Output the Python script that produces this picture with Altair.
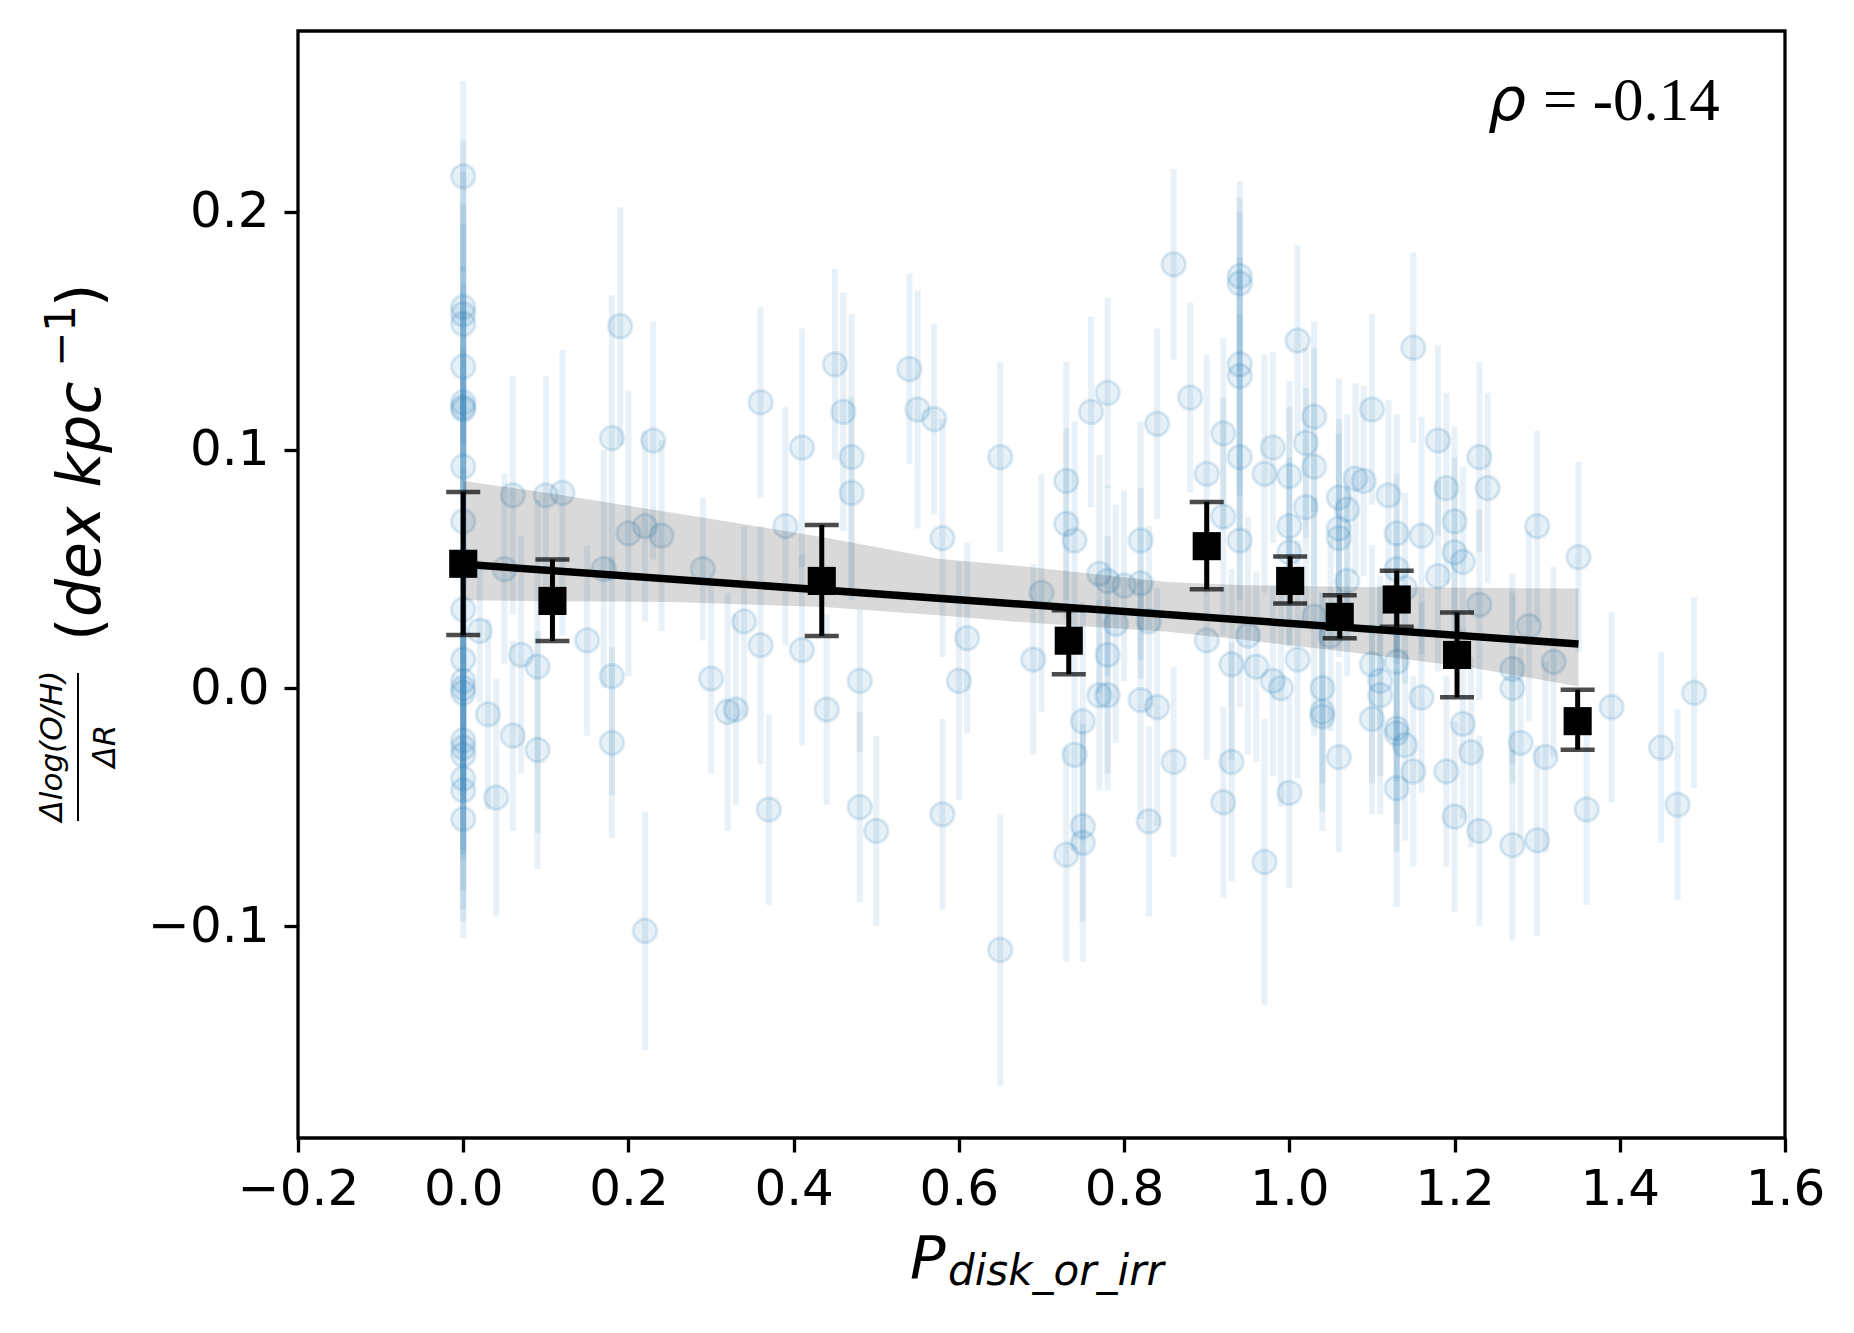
import altair as alt
import pandas as pd

# ---- individual galaxies (light blue points with error bars) ----
blue_x = [0, 0, 0, 0, 0, 0, 0, 0, 0, 0, 0, 0, 0, 0, 0, 0, 0, 0, 0, 0, 0, 0,
          0.02, 0.03, 0.05, 0.04, 0.06, 0.06, 0.07, 0.09, 0.09, 0.10, 0.12, 0.15, 0.17, 0.18,
          0.18, 0.18, 0.19, 0.20, 0.22, 0.22, 0.23, 0.24, 0.29, 0.30, 0.32, 0.33, 0.34, 0.36,
          0.36, 0.37, 0.39, 0.41, 0.41, 0.44, 0.45, 0.46, 0.47, 0.47, 0.48, 0.48, 0.50, 0.54,
          0.55, 0.57, 0.58, 0.58, 0.60, 0.61, 0.65, 0.65, 0.69, 0.70, 0.73, 0.73, 0.73, 0.74,
          0.74, 0.75, 0.75, 0.75, 0.76, 0.77, 0.77, 0.78, 0.78, 0.78, 0.78, 0.79, 0.80, 0.82,
          0.82, 0.82, 0.83, 0.83, 0.84, 0.84, 0.86, 0.86, 0.88, 0.90, 0.90, 0.92, 0.92, 0.92,
          0.93, 0.93, 0.94, 0.94, 0.94, 0.94, 0.94, 0.94, 0.95, 0.96, 0.97, 0.97, 0.98, 0.98,
          0.99, 1.00, 1.00, 1.00, 1.00, 1.01, 1.01, 1.02, 1.02, 1.03, 1.03, 1.03, 1.04, 1.04,
          1.04, 1.05, 1.06, 1.06, 1.06, 1.06, 1.07, 1.07, 1.08, 1.09, 1.10, 1.10, 1.10, 1.11,
          1.11, 1.12, 1.13, 1.13, 1.13, 1.13, 1.13, 1.13, 1.14, 1.14, 1.15, 1.15, 1.16, 1.16,
          1.18, 1.18, 1.19, 1.19, 1.20, 1.20, 1.20, 1.21, 1.21, 1.22, 1.23, 1.23, 1.23, 1.24,
          1.27, 1.27, 1.27, 1.28, 1.29, 1.30, 1.30, 1.31, 1.32, 1.35, 1.36, 1.39, 1.45, 1.47,
          1.49]
blue_y = [0.215, 0.160, 0.157, 0.153, 0.135, 0.120, 0.118, 0.117, 0.093, 0.070, 0.052, 0.033,
          0.012, 0.003, 0.000, -0.002, -0.022, -0.025, -0.028, -0.038, -0.043, -0.055,
          0.024, -0.011, 0.050, -0.046, 0.081, -0.020, 0.014, 0.009, -0.026, 0.081, 0.082, 0.020,
          0.050, 0.105, 0.005, -0.023, 0.152, 0.065, 0.068, -0.102, 0.104, 0.064, 0.050, 0.004,
          -0.010, -0.009, 0.028, 0.120, 0.018, -0.051, 0.068, 0.101, 0.016, -0.009, 0.136, 0.116,
          0.097, 0.082, 0.003, -0.050, -0.060, 0.134, 0.117, 0.113, 0.063, -0.053, 0.003, 0.021,
          0.097, -0.110, 0.012, 0.040, 0.087, 0.069, -0.070, 0.062, -0.028, -0.014, -0.058, -0.065,
          0.116, 0.048, -0.003, 0.124, 0.045, 0.014, -0.003, 0.027, 0.043, 0.062, 0.044, -0.005,
          -0.056, 0.028, 0.111, -0.008, 0.178, -0.031, 0.122, 0.090, 0.020, 0.107, 0.072, -0.048,
          0.010, -0.031, 0.173, 0.170, 0.136, 0.131, 0.097, 0.062, 0.022, 0.009, 0.090, -0.073,
          0.101, 0.003, 0.000, 0.089, 0.068, 0.057, -0.044, 0.146, 0.012, 0.103, 0.076, 0.114,
          0.093, 0.030, 0.000, -0.010, -0.012, 0.022, 0.080, 0.067, 0.063, -0.029, 0.075, 0.045,
          0.088, 0.087, 0.117, 0.010, -0.013, 0.003, -0.003, 0.081, 0.065, 0.050, 0.011, -0.017,
          -0.019, -0.042, -0.024, 0.042, 0.143, -0.035, 0.064, -0.004, 0.104, 0.047, 0.084, -0.035,
          0.070, 0.057, -0.054, 0.053, -0.015, -0.027, 0.097, 0.035, -0.060, 0.084, 0.008, 0.000,
          -0.066, -0.023, 0.026, 0.068, -0.064, -0.029, 0.011, 0.055, -0.051, -0.008, -0.025,
          -0.049, -0.002]
blue_err = [0.040, 0.070, 0.060, 0.050, 0.060, 0.050, 0.040, 0.060, 0.050, 0.060, 0.040,
            0.050, 0.060, 0.050, 0.070, 0.040, 0.050, 0.060, 0.040, 0.060, 0.050, 0.050,
            0.030, 0.040, 0.040, 0.050, 0.050, 0.040, 0.050, 0.070, 0.050, 0.050, 0.060, 0.040, 0.050, 0.060,
            0.050, 0.040, 0.050, 0.060, 0.040, 0.050, 0.050, 0.040, 0.030, 0.040, 0.050, 0.040, 0.040, 0.040,
            0.050, 0.040, 0.050, 0.050, 0.040, 0.040, 0.040, 0.050, 0.060, 0.040, 0.030, 0.040, 0.040, 0.040,
            0.050, 0.040, 0.050, 0.040, 0.050, 0.040, 0.040, 0.057, 0.040, 0.050, 0.050, 0.040, 0.045, 0.050,
            0.040, 0.050, 0.040, 0.050, 0.040, 0.050, 0.040, 0.040, 0.040, 0.050, 0.040, 0.050, 0.040, 0.050,
            0.040, 0.050, 0.040, 0.040, 0.040, 0.050, 0.040, 0.040, 0.040, 0.050, 0.050, 0.040, 0.050, 0.040,
            0.040, 0.050, 0.040, 0.030, 0.070, 0.050, 0.060, 0.070, 0.050, 0.040, 0.050, 0.060, 0.040, 0.040,
            0.050, 0.040, 0.050, 0.040, 0.040, 0.040, 0.050, 0.040, 0.050, 0.040, 0.050, 0.050, 0.040, 0.050,
            0.040, 0.040, 0.050, 0.040, 0.050, 0.040, 0.040, 0.040, 0.040, 0.040, 0.040, 0.050, 0.040, 0.040,
            0.050, 0.040, 0.050, 0.040, 0.050, 0.040, 0.050, 0.050, 0.040, 0.040, 0.040, 0.040, 0.050, 0.040,
            0.040, 0.040, 0.040, 0.040, 0.040, 0.040, 0.040, 0.040, 0.040, 0.040, 0.040, 0.040, 0.040, 0.040,
            0.040, 0.040, 0.040, 0.040, 0.040, 0.040, 0.040, 0.040, 0.040, 0.040, 0.040, 0.040, 0.040, 0.040,
            0.040]

# ---- binned means ----
bin_x = [0.0, 0.108, 0.434, 0.733, 0.900, 1.001, 1.061, 1.130, 1.203, 1.349]
bin_y = [0.0522, 0.0366, 0.0450, 0.0199, 0.0596, 0.0450, 0.0299, 0.0372, 0.0139, -0.0139]
bin_lo = [0.0223, 0.0198, 0.0219, 0.0058, 0.0415, 0.0355, 0.0209, 0.0258, -0.0039, -0.0259]
bin_hi = [0.0824, 0.0540, 0.0685, 0.0327, 0.0782, 0.0553, 0.0390, 0.0493, 0.0317, -0.0007]

# ---- regression line and confidence band ----
fit_x = [0.0, 1.35]
fit_y = [0.0520, 0.0185]
band_x = [0.0, 0.111, 0.25, 0.436, 0.575, 0.668, 0.76, 0.853, 0.946, 1.084, 1.223, 1.35]
band_lo = [0.0369, 0.0365, 0.0362, 0.0341, 0.0306, 0.0279, 0.0258, 0.0237, 0.0202, 0.0146, 0.0084, 0.0007]
band_hi = [0.0870, 0.0815, 0.0738, 0.0634, 0.0543, 0.0515, 0.0480, 0.0446, 0.0432, 0.0425, 0.0421, 0.0418]

x_ticks = [-0.2, 0.0, 0.2, 0.4, 0.6, 0.8, 1.0, 1.2, 1.4, 1.6]
y_ticks = [-0.1, 0.0, 0.1, 0.2]

blue = pd.DataFrame({"x": blue_x, "y": blue_y, "e": blue_err})
blue["lo"] = blue["y"] - blue["e"]
blue["hi"] = blue["y"] + blue["e"]
bins = pd.DataFrame({"x": bin_x, "y": bin_y, "lo": bin_lo, "hi": bin_hi})
fit = pd.DataFrame({"x": fit_x, "y": fit_y})
band = pd.DataFrame({"x": band_x, "lo": band_lo, "hi": band_hi})

FONT = "DejaVu Sans"
xs = alt.Scale(domain=[-0.2, 1.6], nice=False, zero=False)
ys = alt.Scale(domain=[-0.189, 0.276], nice=False, zero=False)
X = alt.X("x:Q", scale=xs, axis=alt.Axis(values=x_ticks, format=".1f", title=None,
                                         labelFlush=False, labelOverlap=False, labelPadding=12))
Y = alt.Y("y:Q", scale=ys, axis=alt.Axis(values=y_ticks, format=".1f", title=None,
                                         labelOverlap=False, labelPadding=15))
BLUE = "#1f77b4"

blue_err_l = alt.Chart(blue).mark_rule(color=BLUE, opacity=0.1, strokeWidth=6).encode(
    x=X, y=alt.Y("lo:Q", scale=ys), y2="hi:Q")
blue_pts = alt.Chart(blue).mark_point(shape="circle", filled=True, fill=BLUE, fillOpacity=0.11,
                                      stroke=BLUE, strokeOpacity=0.15, strokeWidth=3,
                                      size=560).encode(x=X, y=Y)
band_l = alt.Chart(band).mark_area(color="black", opacity=0.15).encode(
    x=X, y=alt.Y("lo:Q", scale=ys), y2="hi:Q")
fit_l = alt.Chart(fit).mark_line(color="black", strokeWidth=7.5).encode(x=X, y=Y)
bin_err = alt.Chart(bins).mark_rule(color="black", strokeWidth=5).encode(
    x=X, y=alt.Y("lo:Q", scale=ys), y2="hi:Q")
cap_lo = alt.Chart(bins).mark_tick(color="black", orient="horizontal", size=34, thickness=4.5).encode(
    x=X, y=alt.Y("lo:Q", scale=ys))
cap_hi = alt.Chart(bins).mark_tick(color="black", orient="horizontal", size=34, thickness=4.5).encode(
    x=X, y=alt.Y("hi:Q", scale=ys))
bin_pts = alt.Chart(bins).mark_square(color="black", opacity=1, size=790).encode(x=X, y=Y)

one = pd.DataFrame({"a": [0]})


def txt(text, x, y, size, font=FONT, style="italic", angle=0, align="left", baseline="alphabetic"):
    return alt.Chart(one).mark_text(text=text, font=font, fontStyle=style, fontSize=size,
                                    angle=angle, align=align, baseline=baseline,
                                    color="black").encode(x=alt.value(x), y=alt.value(y))


rho = txt("ρ", 1190, 89, 60)
rho_val = txt("= -0.14", 1245, 89, 61, font="Liberation Serif", style="normal")
xlab_p = txt("P", 612, 1247, 59)
xlab_sub = txt("disk_or_irr", 650, 1254, 42)
ylab_open = txt("(", -198, 610, 60, style="normal", angle=270)
ylab_units = txt("dex kpc", -198, 586, 60, angle=270)
ylab_sup = txt("−1", -223, 336, 42, style="normal", angle=270)
ylab_close = txt(")", -198, 276, 60, style="normal", angle=270)
ylab_num = txt("Δlog(O/H)", -245, 715, 31, angle=270, align="center", baseline="middle")
ylab_den = txt("ΔR", -192, 715, 31, angle=270, align="center", baseline="middle")
frac_bar = alt.Chart(one).mark_rule(color="black", strokeWidth=2).encode(
    x=alt.value(-220), y=alt.value(642), y2=alt.value(790))

chart = alt.layer(
    blue_err_l, blue_pts, band_l, fit_l, bin_err, cap_lo, cap_hi, bin_pts,
    rho, rho_val, xlab_p, xlab_sub, ylab_open, ylab_units, ylab_sup, ylab_close,
    ylab_num, ylab_den, frac_bar,
).properties(
    width=1487, height=1107,
    autosize=alt.AutoSizeParams(type="none"),
    padding={"left": 290, "top": 23, "right": 61, "bottom": 187},
).configure_view(
    stroke="black", strokeWidth=3.3
).configure_axis(
    domain=False, grid=False, ticks=True, tickColor="black", tickWidth=3.3, tickSize=14,
    labelFont=FONT, labelFontSize=50, labelColor="black",
)

chart.save("out.html", embed_options={"renderer": "svg", "actions": False})
